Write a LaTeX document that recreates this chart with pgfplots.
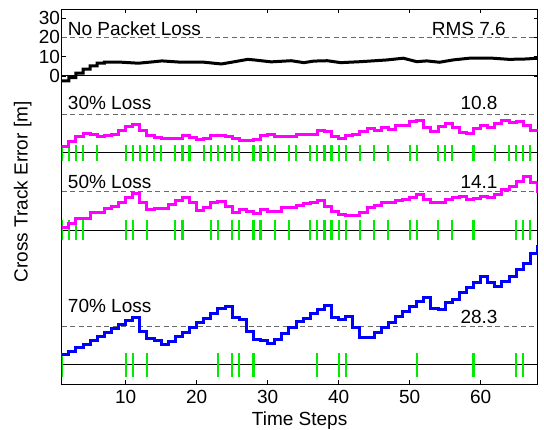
\documentclass[border=0pt]{standalone}
\usepackage{fontspec}
\setmainfont{Liberation Sans}
\usepackage{pgfplots}
\pgfplotsset{compat=1.18}
\usepackage{pgfplotstable}
\definecolor{mgreen}{RGB}{0,235,0}
\definecolor{dgray}{RGB}{105,105,105}
\definecolor{mmag}{RGB}{255,0,255}
\definecolor{mblue}{RGB}{0,0,255}
\newcommand{\lf}{\fontsize{19}{19}\selectfont}

\pgfplotstableread{
x v
1 3.6
2 6.2
3 8.3
4 10
5 9.7
6 8.3
7 9.3
8 9.7
9 11.4
10 13.6
11 14.9
12 11.4
13 8.8
14 7.9
15 7.6
16 7.6
17 7.6
18 8.8
19 7.9
20 7.1
21 7.4
22 9.3
23 9.2
24 8.3
25 7.6
26 6.7
27 6.7
28 7.1
29 9.3
30 9.7
31 8.6
32 8.3
33 8.3
34 9.7
35 9.7
36 9.7
37 11.7
38 10.9
39 8.3
40 7.6
41 8.8
42 9.7
43 11
44 12.8
45 11.7
46 13.1
47 12.3
48 14
49 14
50 16.2
51 16.9
52 13.1
53 11
54 13.5
55 15.5
56 13.1
57 10.5
58 10
59 12.6
60 14.3
61 13.1
62 15.2
63 17.1
64 15.7
65 16.2
66 14.5
67 11.4
68 11.4
}\lossthirty

\pgfplotstableread{
x v
1 1.2
2 3.5
3 5.9
4 5.9
5 9
6 9
7 11
8 12.1
9 14.2
10 16.8
11 19
12 14.2
13 10.7
14 11
15 11
16 13.3
17 15.5
18 17.1
19 14.2
20 10.2
21 11.6
22 14.2
23 15
24 12.1
25 9.3
26 10.7
27 9.8
28 8.6
29 10.7
30 9.8
31 9.8
32 11.6
33 11.6
34 12.8
35 13.5
36 14.5
37 15.5
38 12.4
39 9.8
40 8.1
41 7.6
42 7.6
43 9
44 11.6
45 12.5
46 14.2
47 14.2
48 15.5
49 16
50 16.8
51 18.5
52 16
53 14.2
54 14.5
55 15.9
56 16.8
57 17.3
58 15.9
59 16.5
60 17.6
61 16.8
62 18.5
63 21
64 22.8
65 25.4
66 27.6
67 24.5
68 19.3
}\lossfifty

\pgfplotstableread{
x v
1 5.4
2 7.1
3 8.8
4 10.5
5 12.6
6 14.5
7 16.6
8 18.7
9 20.9
10 23
11 24.7
12 17.4
13 13.6
14 12.8
15 10.5
16 12.3
17 14.5
18 16.6
19 19.5
20 21.8
21 24
22 26.4
23 29.2
24 30
25 24.4
26 23.5
27 17.4
28 13.1
29 12.8
30 11
31 13.1
32 16
33 19.2
34 22.5
35 23.8
36 26.6
37 28.7
38 30.7
39 24.4
40 23.5
41 25.2
42 19.2
43 14.3
44 14.3
45 16.6
46 19.2
47 21.8
48 24.9
49 27.8
50 30.4
51 33
52 35
53 29.2
54 28.7
55 32.1
56 33.9
57 37.7
58 39.9
59 42.8
60 45.6
61 42.8
62 40.4
63 43.4
64 45.9
65 49.4
66 52.8
67 57.7
68 62.3
}\lossseventy

\begin{document}
\begin{tikzpicture}
\useasboundingbox (0,0) rectangle (544pt,430pt);
\begin{axis}[
  at={(61.7pt,46pt)}, anchor=south west,
  scale only axis, width=475.8pt, height=374.5pt,
  xmin=1, xmax=68, ymin=-160, ymax=34.5,
  xtick={10,20,30,40,50,60}, ytick={0,10,20,30},
  tick align=inside, major tick length=4pt,
  axis line style={line width=0.9pt},
  every tick/.style={black, line width=0.8pt},
  /pgf/number format/assume math mode=true,
  ticklabel style={font=\lf},
  xticklabel style={yshift=-3pt},
  yticklabel style={inner sep=0pt, xshift=-1.5pt},
  xlabel={Time Steps}, ylabel={Cross Track Error [m]},
  label style={font=\lf},
  xlabel style={at={(axis description cs:0.5,-0.1095)}, anchor=base, inner sep=0pt},
  ylabel style={at={(axis description cs:-0.0715,0.5127)}, anchor=base, inner sep=0pt},
]
% baselines
\addplot[black, line width=0.9pt] coordinates {(1,0) (68,0)};
\addplot[black, line width=0.9pt] coordinates {(1,-40) (68,-40)};
\addplot[black, line width=0.9pt] coordinates {(1,-80) (68,-80)};
\addplot[black, line width=0.9pt] coordinates {(1,-150) (68,-150)};
% reference dashed lines
\addplot[dgray, line width=1pt, dash pattern=on 5pt off 3.5pt] coordinates {(1,20) (68,20)};
\addplot[dgray, line width=1pt, dash pattern=on 5pt off 3.5pt] coordinates {(1,-20) (68,-20)};
\addplot[dgray, line width=1pt, dash pattern=on 5pt off 3.5pt] coordinates {(1,-60) (68,-60)};
\addplot[dgray, line width=1pt, dash pattern=on 5pt off 3.5pt] coordinates {(1,-130) (68,-130)};
% received packet markers (vertical bars)
\addplot[draw=none, mark=none, error bars/.cd, y dir=both, y fixed=4.1, error mark=none,
  error bar style={draw=mgreen, line width=2.2pt}] coordinates {
(1,-40)(2,-40)(3,-40)(4,-40)(6,-40)(10,-40)(11,-40)(12,-40)(13,-40)(14,-40)(15,-40)
(17,-40)(18,-40)(19,-40)(21,-40)(22,-40)(23,-40)(24,-40)(25,-40)(26,-40)
(28,-40)(29,-40)(30,-40)(31,-40)(33,-40)(34,-40)(36,-40)(37,-40)(38,-40)(39,-40)(40,-40)(41,-40)
(43,-40)(45,-40)(47,-40)(50,-40)(51,-40)(54,-40)(55,-40)(56,-40)(59,-40)(62,-40)
(64,-40)(65,-40)(66,-40)(67,-40)};
\addplot[draw=none, mark=none, error bars/.cd, y dir=both, y fixed=5.4, error mark=none,
  error bar style={draw=mgreen, line width=2.2pt}] coordinates {
(1,-80)(2,-80)(3,-80)(4,-80)(10,-80)(11,-80)(13,-80)(17,-80)(18,-80)(22,-80)(23,-80)
(25,-80)(26,-80)(28,-80)(29,-80)(31,-80)(33,-80)(36,-80)(37,-80)(38,-80)(39,-80)(40,-80)(41,-80)
(43,-80)(45,-80)(47,-80)(50,-80)(51,-80)(54,-80)(56,-80)(59,-80)(65,-80)(66,-80)(67,-80)};
\addplot[draw=none, mark=none, error bars/.cd, y dir=both, y fixed=6.2, error mark=none,
  error bar style={draw=mgreen, line width=2.2pt}] coordinates {
(1,-150)(10,-150)(11,-150)(13,-150)(23,-150)(25,-150)(26,-150)(28,-150)(37,-150)(40,-150)(41,-150)
(51,-150)(59,-150)(65,-150)(66,-150)};
% error curves
\addplot[black, line width=3pt] coordinates {
(1,-2.6)(2,-2.6)(2,-0.9)(3,-0.9)(3,1.4)(4,1.4)(4,3.5)(5,3.5)(5,5.2)(6,5.2)(6,6.6)(7,6.6)(7,7.1)
(8,7.1)(9.5,7.1)(11.8,6.6)(14.1,7.4)(15.1,7.8)(17.9,7.1)(21.1,7.1)(23.5,6.2)(24.9,7.1)(27.2,8.6)
(28.1,8.3)(30.5,7.3)(33.3,7.9)(35.1,6.9)(36.5,7.7)(38.4,7.9)(40.3,6.9)(43.1,7.4)(46.8,8.3)(49.1,9.2)
(51,7.4)(52.4,7.8)(54.2,7.1)(56.1,8.3)(58.4,9.2)(61.7,9.2)(64,8.6)(66.4,8.8)(68,9.2)};
\addplot[mmag, line width=3pt, const plot] table[x=x, y expr=\thisrow{v}-40] {\lossthirty};
\addplot[mmag, line width=3pt, const plot] table[x=x, y expr=\thisrow{v}-80] {\lossfifty};
\addplot[mblue, line width=3pt, const plot] table[x=x, y expr=\thisrow{v}-150] {\lossseventy};
% labels
\node[anchor=base west, inner sep=0pt, font=\lf] at (axis cs:1.85,21.1) {No Packet Loss};
\node[anchor=base east, inner sep=0pt, font=\lf] at (axis cs:63.55,21.1) {RMS 7.6};
\node[anchor=base west, inner sep=0pt, font=\lf] at (axis cs:1.85,-17.3) {30\% Loss};
\node[anchor=base east, inner sep=0pt, font=\lf] at (axis cs:62.4,-17.3) {10.8};
\node[anchor=base west, inner sep=0pt, font=\lf] at (axis cs:1.85,-58.4) {50\% Loss};
\node[anchor=base east, inner sep=0pt, font=\lf] at (axis cs:62.4,-58.5) {14.1};
\node[anchor=base west, inner sep=0pt, font=\lf] at (axis cs:1.85,-123) {70\% Loss};
\node[anchor=base east, inner sep=0pt, font=\lf] at (axis cs:62.4,-128.6) {28.3};
\end{axis}
\end{tikzpicture}
\end{document}
